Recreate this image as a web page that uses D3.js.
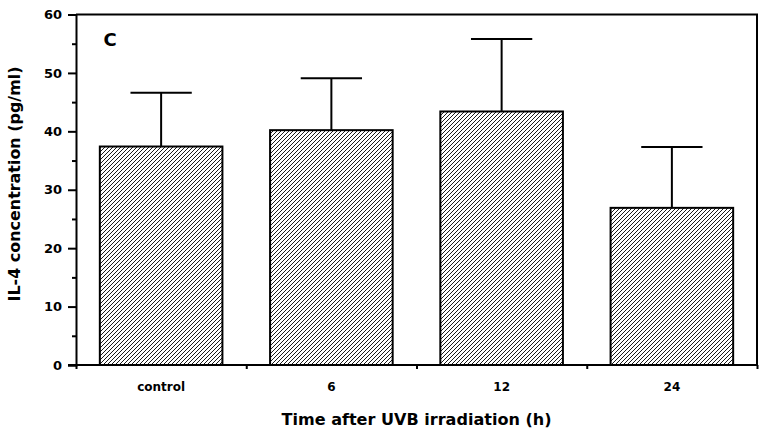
<!DOCTYPE html>
<html><head><meta charset="utf-8">
<script src="https://cdn.jsdelivr.net/npm/d3@7"></script>
<style>body{margin:0;background:#fff}text{font-family:"DejaVu Sans",sans-serif;font-weight:bold;fill:#000}</style>
</head><body><svg id="c" width="779" height="437"></svg>
<script>
const categories = ["control", "6", "12", "24"];
const means = [37.4, 40.2, 43.4, 26.9];
const errors = [9.2, 8.9, 12.4, 10.4];
const yTicks = [0, 10, 20, 30, 40, 50, 60];
const yMinorTicks = [5, 15, 25, 35, 45, 55];
const panelLabel = "C";
const yTitle = "IL-4 concentration (pg/ml)";
const xTitle = "Time after UVB irradiation (h)";

const W = 779, H = 437;
const m = {left: 76, right: 22, top: 14.5, bottom: 72};
const svg = d3.select("#c");
const defs = svg.append("defs");
const pat = defs.append("pattern").attr("id","hatch").attr("patternUnits","userSpaceOnUse")
  .attr("width",4).attr("height",4);
pat.append("rect").attr("width",4).attr("height",4).attr("fill","#fff");
pat.append("path").attr("d","M-1,1 l2,-2 M0,4 l4,-4 M3,5 l2,-2").attr("stroke","#000").attr("stroke-width",0.9);

const x = d3.scaleBand().domain(categories).range([m.left, W - m.right]).paddingInner(0.28).paddingOuter(0.14);
const y = d3.scaleLinear().domain([0, 60]).range([H - m.bottom, m.top]);

const g = svg.append("g");
g.selectAll("rect.bar").data(categories).join("rect").attr("class","bar")
  .attr("x", d => x(d)).attr("width", x.bandwidth())
  .attr("y", (d,i) => y(means[i])).attr("height", (d,i) => y(0) - y(means[i]))
  .attr("fill","url(#hatch)").attr("stroke","#000").attr("stroke-width",2);
categories.forEach((c,i) => {
  const cx = x(c) + x.bandwidth()/2, top = y(means[i] + errors[i]);
  g.append("line").attr("x1",cx).attr("x2",cx).attr("y1",y(means[i])).attr("y2",top).attr("stroke","#000").attr("stroke-width",2);
  g.append("line").attr("x1",cx - x.bandwidth()/4).attr("x2",cx + x.bandwidth()/4).attr("y1",top).attr("y2",top).attr("stroke","#000").attr("stroke-width",2);
});
g.append("path").attr("d",`M${m.left},${y(60)}H${W-m.right}V${y(0)}`).attr("fill","none").attr("stroke","#000").attr("stroke-width",2);

const ya = svg.append("g").attr("transform",`translate(${m.left},0)`)
  .call(d3.axisLeft(y).tickValues(yTicks).tickSize(8).tickPadding(6).tickFormat(d3.format("d")));
ya.select(".domain").attr("stroke-width",2);
ya.selectAll(".tick line").attr("stroke-width",2);
ya.selectAll("text").attr("font-size",13).style("font-family","DejaVu Sans").style("font-weight","bold");
const yam = svg.append("g").attr("transform",`translate(${m.left},0)`)
  .call(d3.axisLeft(y).tickValues(yMinorTicks).tickSize(4).tickFormat(""));
yam.select(".domain").remove();
yam.selectAll(".tick line").attr("stroke-width",2);

const xb = d3.scaleLinear().domain([0, categories.length]).range([m.left, W - m.right]);
const xa = svg.append("g").attr("transform",`translate(0,${y(0)})`)
  .call(d3.axisBottom(xb).ticks(categories.length).tickSize(4).tickFormat(""));
xa.select(".domain").attr("stroke-width",2).attr("d",`M${m.left-8},0H${W-m.right}`);
xa.selectAll(".tick line").attr("stroke-width",2);
const xl = svg.append("g").attr("transform",`translate(0,${y(0)})`)
  .call(d3.axisBottom(x).tickSize(0).tickPadding(17));
xl.select(".domain").remove();
xl.selectAll("text").attr("font-size",12).style("font-family","DejaVu Sans").style("font-weight","bold");

svg.append("text").attr("x", 110).attr("y", 46).attr("text-anchor","middle").attr("font-size",18).text(panelLabel);
svg.append("text").attr("transform","translate(20,184) rotate(-90)").attr("text-anchor","middle")
  .attr("font-size",15).attr("textLength",235).attr("lengthAdjust","spacingAndGlyphs").text(yTitle);
svg.append("text").attr("x",(m.left + W - m.right)/2).attr("y",425).attr("text-anchor","middle")
  .attr("font-size",16).attr("textLength",270).attr("lengthAdjust","spacingAndGlyphs").text(xTitle);
</script></body></html>
